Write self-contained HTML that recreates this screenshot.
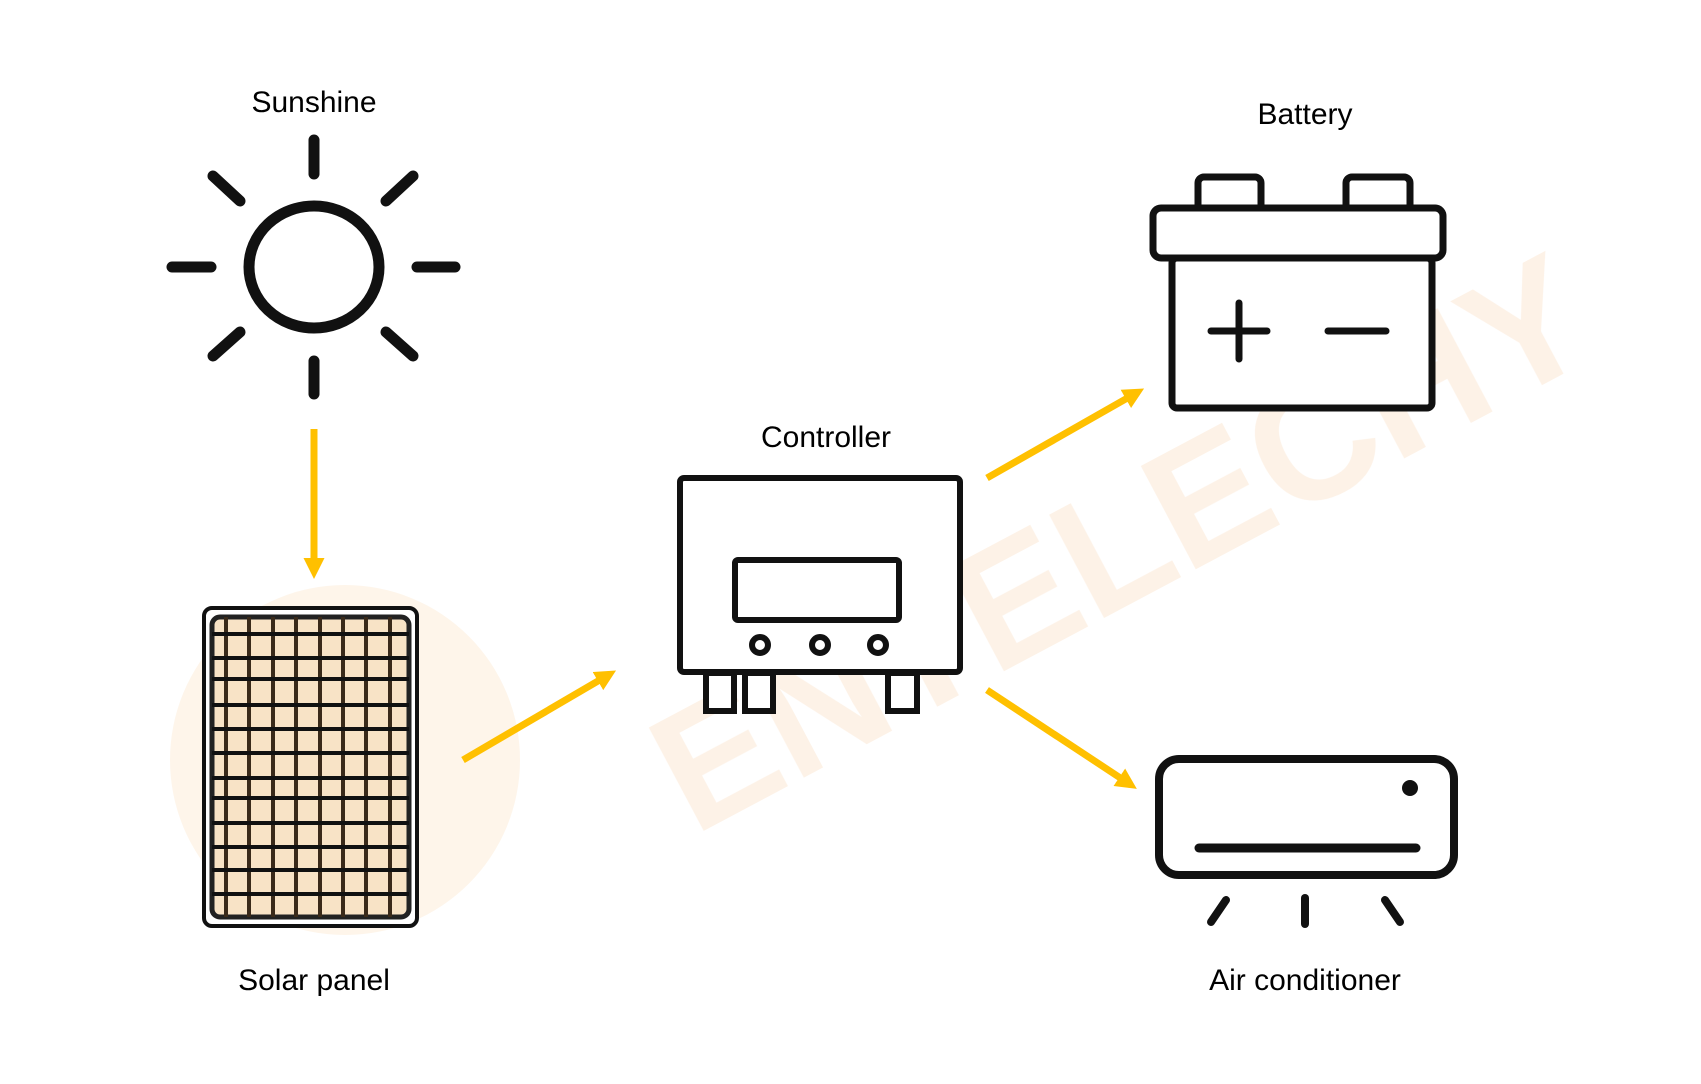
<!DOCTYPE html>
<html><head><meta charset="utf-8"><style>
html,body{margin:0;padding:0;background:#fff;}
svg{display:block;}
text{font-family:"Liberation Sans",sans-serif;font-size:30px;fill:#000;}
</style></head><body>
<svg width="1701" height="1084" viewBox="0 0 1701 1084" xmlns="http://www.w3.org/2000/svg">
<defs>
<marker id="ah" markerWidth="3" markerHeight="3" refX="2" refY="1.5" orient="auto" markerUnits="strokeWidth">
<path d="M0,0 L3,1.5 L0,3 Z" fill="#FFC000"/>
</marker>
</defs>
<!-- faint watermark -->
<g opacity="0.14">
<circle cx="345" cy="760" r="175" fill="#f3b56a"/>
<text x="560" y="700" transform="rotate(-28 900 500)" style="font-size:170px;fill:#f0a050;font-weight:bold">ENTELECHY</text>
</g>
<text x="314" y="112" text-anchor="middle">Sunshine</text>
<text x="1305" y="124" text-anchor="middle">Battery</text>
<text x="826" y="447" text-anchor="middle">Controller</text>
<text x="314" y="990" text-anchor="middle">Solar panel</text>
<text x="1305" y="990" text-anchor="middle">Air conditioner</text>

<!-- sun -->
<g stroke="#111" stroke-width="11" stroke-linecap="round" fill="none">
<ellipse cx="314" cy="267" rx="65" ry="61"/>
<line x1="314" y1="140" x2="314" y2="174"/>
<line x1="314" y1="361" x2="314" y2="394"/>
<line x1="172" y1="267" x2="211" y2="267"/>
<line x1="417" y1="267" x2="455" y2="267"/>
<line x1="213" y1="176" x2="240" y2="201"/>
<line x1="413" y1="176" x2="386" y2="201"/>
<line x1="213" y1="356" x2="240" y2="332"/>
<line x1="413" y1="356" x2="386" y2="332"/>
</g>

<!-- arrows -->
<g stroke="#FFC000" stroke-width="7" fill="none" marker-end="url(#ah)">
<line x1="314" y1="429" x2="314" y2="572"/>
<line x1="463" y1="760" x2="610" y2="674"/>
<line x1="987" y1="478" x2="1138" y2="392"/>
<line x1="987" y1="690" x2="1131" y2="785"/>
</g>

<!-- solar panel -->
<rect x="204" y="608" width="213" height="318" rx="8" fill="#fff" stroke="#111" stroke-width="4"/>
<rect x="212" y="617" width="197" height="300" rx="8" fill="#f8e3c6" stroke="#222" stroke-width="5"/>
<g stroke="#3a2a1a" stroke-width="4">
<line x1="226" y1="617" x2="226" y2="917"/>
<line x1="249" y1="617" x2="249" y2="917"/>
<line x1="273" y1="617" x2="273" y2="917"/>
<line x1="296" y1="617" x2="296" y2="917"/>
<line x1="320" y1="617" x2="320" y2="917"/>
<line x1="343" y1="617" x2="343" y2="917"/>
<line x1="366" y1="617" x2="366" y2="917"/>
<line x1="390" y1="617" x2="390" y2="917"/>
</g>
<g stroke="#111" stroke-width="4">
<line x1="212" y1="634" x2="409" y2="634"/>
<line x1="212" y1="658" x2="409" y2="658"/>
<line x1="212" y1="679" x2="409" y2="679"/>
<line x1="212" y1="705" x2="409" y2="705"/>
<line x1="212" y1="729" x2="409" y2="729"/>
<line x1="212" y1="753" x2="409" y2="753"/>
<line x1="212" y1="778" x2="409" y2="778"/>
<line x1="212" y1="798" x2="409" y2="798"/>
<line x1="212" y1="823" x2="409" y2="823"/>
<line x1="212" y1="847" x2="409" y2="847"/>
<line x1="212" y1="870" x2="409" y2="870"/>
<line x1="212" y1="894" x2="409" y2="894"/>
</g>

<!-- controller -->
<g stroke="#111" stroke-width="6" fill="#fff">
<rect x="706" y="673" width="28" height="38"/>
<rect x="745" y="673" width="28" height="38"/>
<rect x="888" y="673" width="29" height="38"/>
<rect x="680" y="478" width="280" height="194" rx="4"/>
<rect x="735" y="560" width="164" height="60" rx="3"/>
<circle cx="760" cy="645" r="8"/>
<circle cx="820" cy="645" r="8"/>
<circle cx="878" cy="645" r="8"/>
</g>

<!-- battery -->
<g stroke="#111" stroke-width="7" fill="#fff" stroke-linecap="round">
<rect x="1198" y="177" width="63" height="34" rx="6"/>
<rect x="1346" y="177" width="64" height="34" rx="6"/>
<rect x="1172" y="258" width="260" height="150" rx="5"/>
<rect x="1153" y="208" width="290" height="50" rx="8"/>
<line x1="1211" y1="331" x2="1267" y2="331"/>
<line x1="1239" y1="303" x2="1239" y2="359"/>
<line x1="1328" y1="331" x2="1386" y2="331"/>
</g>

<!-- AC -->
<g stroke="#111" fill="none" stroke-linecap="round">
<rect x="1159" y="759" width="295" height="116" rx="20" stroke-width="8"/>
<line x1="1199" y1="848" x2="1416" y2="848" stroke-width="9"/>
<line x1="1211" y1="922" x2="1226" y2="900" stroke-width="8"/>
<line x1="1305" y1="898" x2="1305" y2="924" stroke-width="8"/>
<line x1="1385" y1="900" x2="1400" y2="922" stroke-width="8"/>
</g>
<circle cx="1410" cy="788" r="8" fill="#111"/>
</svg>
</body></html>
